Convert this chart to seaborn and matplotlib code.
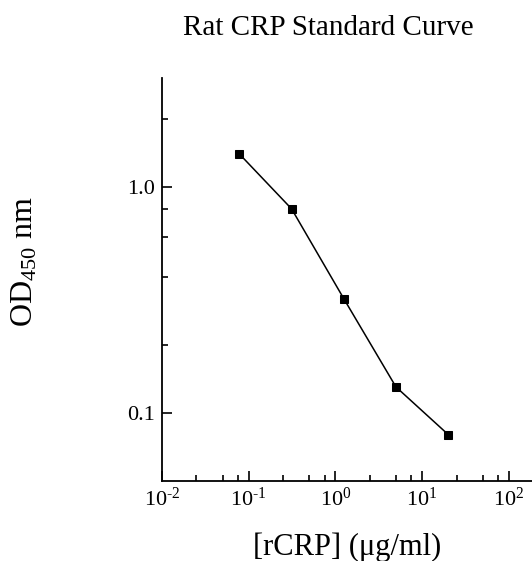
import matplotlib
matplotlib.use("Agg")
import matplotlib.pyplot as plt
import seaborn as sns
import pandas as pd
from matplotlib.ticker import FixedLocator, FixedFormatter, NullFormatter

conc = [0.078125, 0.3125, 1.25, 5, 20]
od = [1.40, 0.80, 0.32, 0.13, 0.080]
x_major = [0.01, 0.1, 1, 10, 100]
x_labels = [r"$\mathregular{10^{\text{-}2}}$", r"$\mathregular{10^{\text{-}1}}$", r"$\mathregular{10^{0}}$",
            r"$\mathregular{10^{1}}$", r"$\mathregular{10^{2}}$"]
y_major = [0.1, 1.0]
y_labels = ["0.1", "1.0"]
y_minor = [0.2, 0.4, 0.6, 0.8, 2.0]
x_minor = [m * d for d in [0.01, 0.1, 1, 10, 100] for m in (2.5, 5, 7.5)]

sns.set_theme(style="ticks")
plt.rcParams["font.family"] = ["Liberation Serif", "DejaVu Serif"]
plt.rcParams["mathtext.fontset"] = "custom"
plt.rcParams["mathtext.rm"] = "Liberation Serif"
plt.rcParams["mathtext.it"] = "Liberation Serif:italic"

df = pd.DataFrame({"conc": conc, "od": od})

fig = plt.figure(figsize=(5.32, 5.61), dpi=100)
ax = fig.add_axes([162 / 532, 1 - 481 / 561, (532 - 162) / 532, (481 - 78) / 561])
sns.lineplot(data=df, x="conc", y="od", ax=ax, color="black", marker="s",
             markersize=5.5, markeredgecolor="black", linewidth=1.1)
ax.set_xscale("log")
ax.set_yscale("log")
ax.set_xlim(0.01, 10 ** 2.268)
ax.set_ylim(0.0498, 3.04)

ax.xaxis.set_major_locator(FixedLocator(x_major))
ax.xaxis.set_major_formatter(FixedFormatter(x_labels))
ax.xaxis.set_minor_locator(FixedLocator(x_minor))
ax.xaxis.set_minor_formatter(NullFormatter())
ax.yaxis.set_major_locator(FixedLocator(y_major))
ax.yaxis.set_major_formatter(FixedFormatter(y_labels))
ax.yaxis.set_minor_locator(FixedLocator(y_minor))
ax.yaxis.set_minor_formatter(NullFormatter())

for s in ["top", "right"]:
    ax.spines[s].set_visible(False)
for s in ["left", "bottom"]:
    ax.spines[s].set_linewidth(1.3)
    ax.spines[s].set_color("black")

ax.tick_params(axis="both", which="major", direction="in", length=7, width=1.2,
               labelsize=16, colors="black", pad=5)
ax.tick_params(axis="both", which="minor", direction="in", length=4, width=1.2, colors="black")

ax.set_xlabel("[rCRP] (μg/ml)", fontsize=22, color="black")
ax.xaxis.set_label_coords(0.5, (481 - 547) / 403, transform=ax.transAxes)
ax.xaxis.label.set_va("center")
ax.set_ylabel(r"OD$\mathregular{_{450}}$ nm", fontsize=23, color="black")
ax.yaxis.set_label_coords(-137 / 370, (481 - 261) / 403, transform=ax.transAxes)
ax.yaxis.label.set_va("center")
fig.text(328 / 532, 1 - 35 / 561, "Rat CRP Standard Curve", ha="center", va="baseline",
         fontsize=21, color="black")
ax.set_facecolor("white")
fig.patch.set_facecolor("white")
fig.savefig("out.png", dpi=100)
